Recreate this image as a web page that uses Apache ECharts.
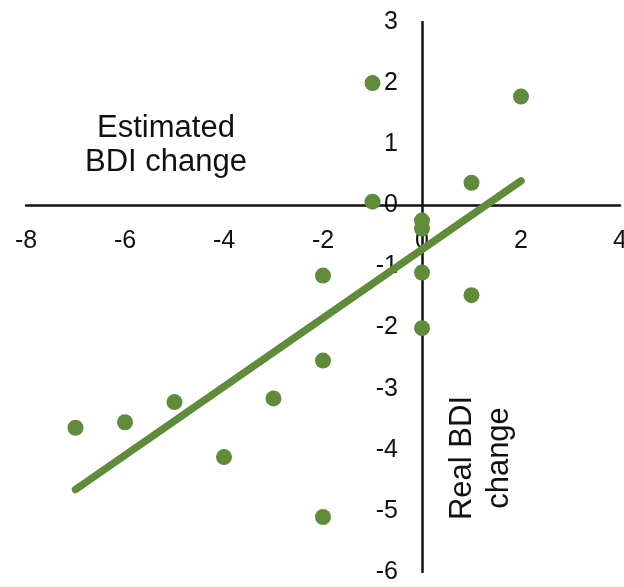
<!DOCTYPE html>
<html>
<head>
<meta charset="utf-8">
<script src="https://cdn.jsdelivr.net/npm/echarts@6/dist/echarts.min.js"></script>
<style>
html,body{margin:0;padding:0;background:#fff;}
#chart{width:624px;height:587px;}
</style>
</head>
<body>
<div id="chart"></div>
<script>
// Data
const pointX = [-7, -6, -5, -4, -3, -2, -2, -2, -1, -1, 0, 0, 0, 0, 1, 1, 2];
const pointY = [-3.64, -3.55, -3.22, -4.12, -3.16, -5.1, -2.54, -1.15, 2.0, 0.06, -0.25, -0.38, -1.1, -2.01, 0.37, -1.47, 1.78];
const trendX = [-7, 2];
const trendY = [-4.65, 0.4];
const xTicks = { min: -8, max: 4, interval: 2 };
const yTicks = { min: -6, max: 3, interval: 1 };
const labelEstimated = 'Estimated\nBDI change';
const labelReal = 'Real BDI\nchange';

const green = '#5f8b3a';
const font = '"Liberation Sans", Arial, Helvetica, sans-serif';

const W = 624, H = 587;
const grid = { left: 26, right: 4, top: 22, bottom: 15 };
const gw = W - grid.left - grid.right;
const gh = H - grid.top - grid.bottom;
// distance from the grid edge to the zero line, used to move the label-only axes onto the zero lines
const xZeroOffset = gh * (0 - yTicks.min) / (yTicks.max - yTicks.min);
const yZeroOffset = gw * (0 - xTicks.min) / (xTicks.max - xTicks.min);

const labelStyle = { color: '#111', fontSize: 25, fontFamily: font, showMinLabel: true, showMaxLabel: true };

const chart = echarts.init(document.getElementById('chart'));
chart.setOption({
  backgroundColor: '#ffffff',
  animation: false,
  grid: Object.assign({ containLabel: false, outerBoundsMode: 'none' }, grid),
  xAxis: [
    {
      type: 'value',
      min: xTicks.min, max: xTicks.max, interval: xTicks.interval,
      axisLine: { show: true, onZero: true, lineStyle: { color: '#111', width: 2.5 } },
      axisTick: { show: false },
      splitLine: { show: false },
      axisLabel: { show: false }
    },
    {
      type: 'value', position: 'bottom', offset: -xZeroOffset,
      min: xTicks.min, max: xTicks.max, interval: xTicks.interval,
      axisLine: { show: false, onZero: false },
      axisTick: { show: false },
      splitLine: { show: false },
      axisLabel: Object.assign({ margin: 23 }, labelStyle)
    }
  ],
  yAxis: [
    {
      type: 'value',
      min: yTicks.min, max: yTicks.max, interval: yTicks.interval,
      axisLine: { show: true, onZero: true, lineStyle: { color: '#111', width: 2.5 } },
      axisTick: { show: false },
      splitLine: { show: false },
      axisLabel: { show: false }
    },
    {
      type: 'value', position: 'left', offset: -yZeroOffset,
      min: yTicks.min, max: yTicks.max, interval: yTicks.interval,
      axisLine: { show: false, onZero: false },
      axisTick: { show: false },
      splitLine: { show: false },
      axisLabel: Object.assign({ margin: 24 }, labelStyle)
    }
  ],
  series: [
    {
      type: 'line',
      xAxisIndex: 0, yAxisIndex: 0,
      data: trendX.map((x, i) => [x, trendY[i]]),
      showSymbol: false,
      symbol: 'none',
      lineStyle: { color: green, width: 7.5, cap: 'round' },
      z: 3
    },
    {
      type: 'scatter',
      xAxisIndex: 0, yAxisIndex: 0,
      data: pointX.map((x, i) => [x, pointY[i]]),
      symbol: 'circle',
      symbolSize: 16,
      itemStyle: { color: green, opacity: 1 },
      z: 2
    }
  ],
  graphic: [
    {
      type: 'text',
      x: 166, y: 145,
      style: {
        text: labelEstimated,
        fontSize: 31, fontFamily: font, fill: '#111',
        lineHeight: 34,
        align: 'center', verticalAlign: 'middle'
      }
    },
    {
      type: 'text',
      x: 481, y: 458,
      rotation: Math.PI / 2,
      style: {
        text: labelReal,
        fontSize: 31, fontFamily: font, fill: '#111',
        lineHeight: 37,
        align: 'center', verticalAlign: 'middle'
      }
    }
  ]
});
</script>
</body>
</html>
